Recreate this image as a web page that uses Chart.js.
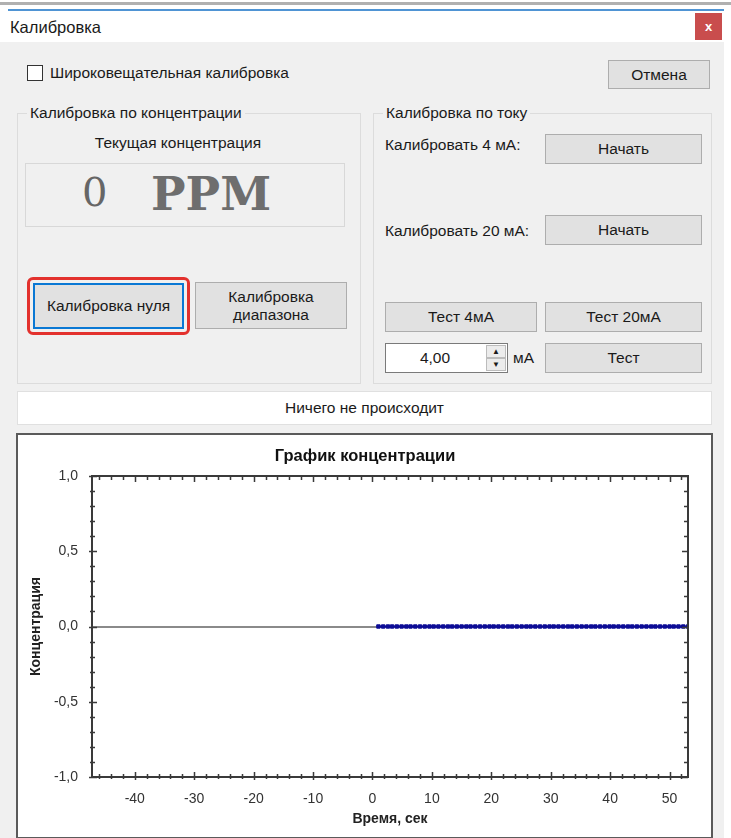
<!DOCTYPE html>
<html lang="ru">
<head>
<meta charset="utf-8">
<title>Калибровка</title>
<script src="https://cdn.jsdelivr.net/npm/chart.js@4.4.1/dist/chart.umd.min.js"></script>
<style>
  body {
    margin: 0;
    width: 731px;
    height: 838px;
    position: relative;
    overflow: hidden;
    background: #fff;
    font-family: "Liberation Sans", Arial, sans-serif;
    font-size: 15.5px;
    color: #1a1a1a;
  }
  .abs { position: absolute; }
  .txt { position: absolute; white-space: nowrap; line-height: 18px; }
  .btn {
    position: absolute;
    box-sizing: border-box;
    background: #e1e1e1;
    border: 1px solid #adadad;
    display: flex;
    align-items: center;
    justify-content: center;
    text-align: center;
    line-height: 18px;
  }
  .group {
    position: absolute;
    box-sizing: border-box;
    border: 1px solid #dcdcdc;
  }
  .legend {
    position: absolute;
    top: -10px;
    left: 9px;
    padding: 0 3px;
    background: #f0f0f0;
    line-height: 18px;
    white-space: nowrap;
  }
</style>
</head>
<body>

<!-- window chrome -->
<div class="abs" style="left:0;top:2px;width:731px;height:3px;background:#b0b0b0"></div>
<div class="abs" style="left:8px;top:9px;width:716px;height:2px;background:#4f94d4"></div>
<div class="txt" style="left:10px;top:18px;font-size:16.5px">Калибровка</div>
<div class="abs" style="left:695px;top:13px;width:27px;height:27px;background:#c94d4d;color:#fff;font-weight:bold;font-size:13px;display:flex;align-items:center;justify-content:center">x</div>

<!-- dialog body -->
<div class="abs" style="left:0;top:42px;width:724px;height:796px;background:#f0f0f0"></div>

<div class="abs" style="left:27px;top:65px;width:16px;height:16px;box-sizing:border-box;border:1px solid #333;background:#fff"></div>
<div class="txt" style="left:50px;top:64px">Широковещательная калибровка</div>
<div class="btn" style="left:608px;top:60px;width:102px;height:29px">Отмена</div>

<!-- concentration group -->
<div class="group" style="left:17px;top:113px;width:344px;height:271px">
  <div class="legend">Калибровка по концентрации</div>
</div>
<div class="txt" style="left:17px;top:134px;width:322px;text-align:center">Текущая концентрация</div>
<div class="abs" style="left:25px;top:163px;width:320px;height:64px;box-sizing:border-box;border:1px solid #d8d8d8"></div>
<div class="txt" style="left:82px;top:170px;font-family:'DejaVu Serif',serif;font-size:40px;line-height:44px;color:#666">0</div>
<div class="txt" style="left:151px;top:167px;font-family:'DejaVu Serif',serif;font-weight:bold;font-size:46px;line-height:54px;color:#6e6e6e">PPM</div>

<div class="abs" style="left:27px;top:277px;width:163px;height:58px;box-sizing:border-box;border:3px solid #e3312d;border-radius:6px"></div>
<div class="btn" style="left:33px;top:283px;width:151px;height:46px;border:2px solid #0a78d4">Калибровка нуля</div>
<div class="btn" style="left:195px;top:282px;width:152px;height:47px">Калибровка<br>диапазона</div>

<!-- current group -->
<div class="group" style="left:373px;top:113px;width:339px;height:271px">
  <div class="legend">Калибровка по току</div>
</div>
<div class="txt" style="left:385px;top:136px">Калибровать 4 мА:</div>
<div class="btn" style="left:545px;top:134px;width:157px;height:30px">Начать</div>
<div class="txt" style="left:385px;top:222px">Калибровать 20 мА:</div>
<div class="btn" style="left:545px;top:215px;width:157px;height:30px">Начать</div>
<div class="btn" style="left:385px;top:302px;width:152px;height:30px">Тест 4мА</div>
<div class="btn" style="left:545px;top:302px;width:157px;height:30px">Тест 20мА</div>
<div class="abs" style="left:385px;top:343px;width:123px;height:30px;box-sizing:border-box;border:1px solid #7a7a7a;background:#fff"></div>
<div class="txt" style="left:385px;top:349px;width:100px;text-align:center">4,00</div>
<div class="abs" style="left:486px;top:345px;width:20px;height:13px;box-sizing:border-box;border:1px solid #bcbcbc;background:#ececec;font-size:8px;line-height:11px;text-align:center">▲</div>
<div class="abs" style="left:486px;top:358px;width:20px;height:13px;box-sizing:border-box;border:1px solid #bcbcbc;background:#ececec;font-size:8px;line-height:11px;text-align:center">▼</div>
<div class="txt" style="left:513px;top:349px">мА</div>
<div class="btn" style="left:545px;top:343px;width:157px;height:30px">Тест</div>

<!-- status line -->
<div class="abs" style="left:17px;top:391px;width:695px;height:34px;box-sizing:border-box;border:1px solid #e0e0e0;background:#fff"></div>
<div class="txt" style="left:17px;top:399px;width:695px;text-align:center">Ничего не происходит</div>

<!-- chart frame (canvas spans the page width so the title centres on the frame) -->
<div class="abs" style="left:16px;top:433px;width:697px;height:406px;box-sizing:border-box;border:2px solid #5a5a5a;background:#fff"></div>
<div class="abs" style="left:0;top:435px;width:731px;height:401px">
  <canvas id="concChart" width="731" height="401"></canvas>
</div>

<script>
// ── Data ─────────────────────────────────────
const TIME_SEC = [
  1.0, 1.8, 2.6, 3.3, 4.1, 4.9, 5.7, 6.4, 7.2, 8.0, 8.8, 9.6,
  10.3, 11.1, 11.9, 12.7, 13.4, 14.2, 15.0, 15.8, 16.5, 17.3, 18.1, 18.9, 19.7,
  20.4, 21.2, 22.0, 22.8, 23.5, 24.3, 25.1, 25.9, 26.6, 27.4, 28.2, 29.0, 29.8,
  30.5, 31.3, 32.1, 32.9, 33.6, 34.4, 35.2, 36.0, 36.8, 37.5, 38.3, 39.1, 39.9,
  40.6, 41.4, 42.2, 43.0, 43.7, 44.5, 45.3, 46.1, 46.9, 47.6, 48.4, 49.2, 50.0,
  50.7, 51.5, 52.3, 53.1
];
const CONCENTRATION = [
  0, 0, 0, 0, 0, 0, 0, 0, 0, 0, 0, 0,
  0, 0, 0, 0, 0, 0, 0, 0, 0, 0, 0, 0, 0,
  0, 0, 0, 0, 0, 0, 0, 0, 0, 0, 0, 0, 0,
  0, 0, 0, 0, 0, 0, 0, 0, 0, 0, 0, 0, 0,
  0, 0, 0, 0, 0, 0, 0, 0, 0, 0, 0, 0, 0,
  0, 0, 0, 0
];

// ── Axis ticks ───────────────────────────────
const X_MAJOR = [-40, -30, -20, -10, 0, 10, 20, 30, 40, 50];
const X_LABELS = ['-40', '-30', '-20', '-10', '0', '10', '20', '30', '40', '50'];
const Y_MAJOR = [-1, -0.5, 0, 0.5, 1];
const Y_LABELS = ['-1,0', '-0,5', '0,0', '0,5', '1,0'];

const FONT = '"Liberation Sans", Arial, sans-serif';

function majorIndex(list, v) {
  return list.findIndex(m => Math.abs(m - v) < 1e-6);
}

// ── Frame + inward tick marks on all four sides ──
const frameTicks = {
  id: 'frameTicks',
  afterDatasetsDraw(chart) {
    const { ctx, chartArea: a, scales: { x, y } } = chart;
    ctx.save();
    ctx.strokeStyle = '#3a3a3a';
    ctx.lineWidth = 2;
    ctx.strokeRect(a.left, a.top, a.right - a.left, a.bottom - a.top);

    ctx.lineWidth = 1.5;
    ctx.beginPath();
    x.ticks.forEach(t => {
      const px = Math.round(x.getPixelForValue(t.value)) + 0.5;
      const major = majorIndex(X_MAJOR, t.value) >= 0;
      const inner = major ? 5 : 3;
      const outer = major ? 3 : 2;
      ctx.moveTo(px, a.bottom + outer);
      ctx.lineTo(px, a.bottom - inner);
      ctx.moveTo(px, a.top);
      ctx.lineTo(px, a.top + inner + 1);
    });
    y.ticks.forEach(t => {
      const py = Math.round(y.getPixelForValue(t.value)) + 0.5;
      const major = majorIndex(Y_MAJOR, t.value) >= 0;
      const inner = major ? 5 : 3;
      const outer = major ? 3 : 2;
      ctx.moveTo(a.left - outer, py);
      ctx.lineTo(a.left + inner, py);
      ctx.moveTo(a.right, py);
      ctx.lineTo(a.right - inner - 1, py);
    });
    ctx.stroke();
    ctx.restore();
  }
};

const concChart = new Chart(document.getElementById('concChart'), {
  type: 'line',
  data: {
    datasets: [{
      label: 'Концентрация',
      data: TIME_SEC.map((t, i) => ({ x: t, y: CONCENTRATION[i] })),
      borderColor: '#0c0c96',
      backgroundColor: '#0c0c96',
      borderWidth: 2,
      pointStyle: 'rect',
      pointRadius: 2.4,
      pointBorderWidth: 1,
      tension: 0
    }]
  },
  options: {
    responsive: false,
    animation: false,
    layout: { padding: { left: 42, right: 43, top: 0, bottom: 0 } },
    plugins: {
      legend: { display: false },
      tooltip: { enabled: false },
      title: {
        display: true,
        text: 'График концентрации',
        color: '#111',
        font: { family: FONT, size: 16.5, weight: 'bold' },
        padding: { top: 11.7, bottom: 9.5 }
      }
    },
    scales: {
      x: {
        type: 'linear',
        min: -47.2,
        max: 53.1,
        afterFit(scale) { scale.height = 59; },
        grid: { display: false, drawTicks: false },
        border: { display: false },
        ticks: {
          stepSize: 2,
          includeBounds: false,
          autoSkip: false,
          maxRotation: 0,
          padding: 14,
          color: '#333',
          font: { family: FONT, size: 14 },
          callback(v) {
            const i = majorIndex(X_MAJOR, v);
            return i >= 0 ? X_LABELS[i] : '';
          }
        },
        title: {
          display: true,
          text: 'Время, сек',
          color: '#222',
          font: { family: FONT, size: 14, weight: 'bold' },
          padding: { top: 0, bottom: 8 }
        }
      },
      y: {
        min: -1,
        max: 1,
        afterFit(scale) { scale.width = 50; },
        grid: {
          drawTicks: false,
          lineWidth: 2,
          color: ctx => (ctx.tick && Math.abs(ctx.tick.value) < 1e-9 ? '#8a8a8a' : 'rgba(0,0,0,0)')
        },
        border: { display: false },
        ticks: {
          stepSize: 0.1,
          includeBounds: false,
          autoSkip: false,
          padding: 14,
          color: '#333',
          font: { family: FONT, size: 14 },
          callback(v) {
            const i = majorIndex(Y_MAJOR, v);
            return i >= 0 ? Y_LABELS[i] : '';
          }
        },
        title: {
          display: true,
          text: 'Концентрация',
          color: '#222',
          font: { family: FONT, size: 14, weight: 'bold' },
          // negative offset pulls the rotated title out to the frame edge
          padding: { top: -14.4, bottom: 0 }
        }
      }
    }
  },
  plugins: [frameTicks]
});
</script>
</body>
</html>
